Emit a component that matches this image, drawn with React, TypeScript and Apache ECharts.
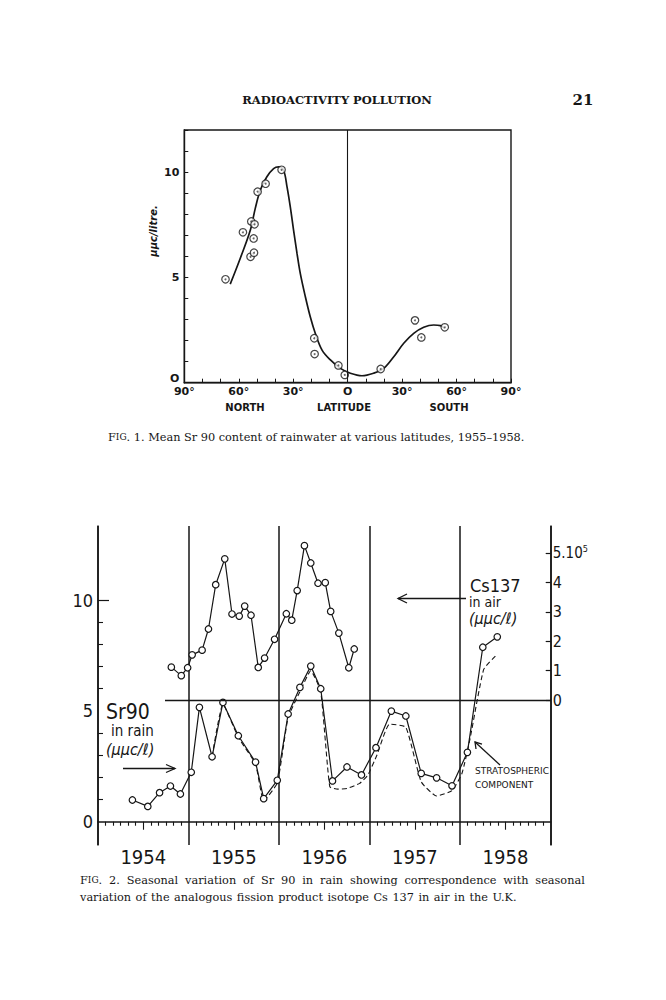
import React, { useEffect, useRef } from "react";
import * as echarts from "echarts";

// ---------- Figure 1 data (latitude: + = North, - = South) ----------
const fig1Lat = [67.3, 57.7, 53.1, 51.3, 51.8, 53.5, 51.6, 49.6, 45.2, 36.4, 18.4, 18.2, 5.1, 1.6, -18.2, -37.1, -40.6, -53.5];
const fig1Val = [4.91, 7.14, 7.66, 7.52, 6.85, 5.98, 6.17, 9.07, 9.45, 10.11, 2.11, 1.36, 0.82, 0.37, 0.65, 2.96, 2.15, 2.63];
const fig1CurveLat = [64.7, 59.2, 53.6, 50.9, 48.1, 44.5, 40.8, 38.0, 35.3, 33.4, 31.6, 29.8, 27.9, 26.1, 23.3, 20.6, 17.8, 14.1, 9.5, 4.0, -1.5, -7.9, -14.3, -19.9, -25.4, -30.9, -36.4, -41.9, -47.4, -51.1, -53.5];
const fig1CurveVal = [4.68, 5.9, 7.25, 8.28, 9.15, 9.78, 10.17, 10.25, 10.09, 9.3, 8.35, 7.25, 6.14, 5.19, 4.08, 3.13, 2.34, 1.55, 1.08, 0.68, 0.45, 0.33, 0.45, 0.68, 1.23, 1.87, 2.34, 2.63, 2.74, 2.71, 2.58];
const fig1XLabels = [-90, -60, -30, 0, 30, 60, 90];
const fig1YLabels = [0, 5, 10];

// ---------- Figure 2 data ----------
const srTime = [1954.38, 1954.55, 1954.68, 1954.8, 1954.91, 1955.03, 1955.12, 1955.26, 1955.38, 1955.55, 1955.74, 1955.83, 1955.98, 1956.1, 1956.23, 1956.35, 1956.46, 1956.59, 1956.75, 1956.91, 1957.07, 1957.24, 1957.4, 1957.57, 1957.74, 1957.91, 1958.08, 1958.25, 1958.41];
const srVal = [0.98, 0.69, 1.31, 1.61, 1.25, 2.23, 5.16, 2.93, 5.38, 3.88, 2.69, 1.04, 1.87, 4.86, 6.06, 7.02, 6.0, 1.84, 2.47, 2.11, 3.34, 4.99, 4.77, 2.18, 1.98, 1.62, 3.13, 7.87, 8.34];
const stratTime = [1955.26, 1955.38, 1955.55, 1955.74, 1955.83, 1955.98, 1956.1, 1956.23, 1956.35, 1956.46, 1956.56, 1956.65, 1956.75, 1956.89, 1956.98, 1957.08, 1957.22, 1957.4, 1957.57, 1957.74, 1957.91, 1958.02, 1958.11, 1958.26, 1958.4];
const stratVal = [2.93, 5.3, 3.8, 2.6, 0.95, 1.75, 4.7, 5.86, 6.81, 5.86, 1.58, 1.47, 1.5, 1.73, 2.1, 3.0, 4.4, 4.26, 1.8, 1.16, 1.4, 2.18, 3.76, 6.87, 7.52];
const csTime = [1954.81, 1954.92, 1954.99, 1955.04, 1955.15, 1955.22, 1955.3, 1955.4, 1955.48, 1955.56, 1955.62, 1955.69, 1955.77, 1955.84, 1955.95, 1956.08, 1956.14, 1956.2, 1956.28, 1956.35, 1956.43, 1956.51, 1956.57, 1956.66, 1956.77, 1956.83];
const csVal = [1.12, 0.83, 1.1, 1.54, 1.7, 2.42, 3.93, 4.81, 2.93, 2.86, 3.2, 2.89, 1.11, 1.43, 2.07, 2.94, 2.72, 3.73, 5.26, 4.67, 3.98, 4.0, 3.02, 2.28, 1.1, 1.74];
const years = [1954, 1955, 1956, 1957, 1958];
const leftLabels = [0, 5, 10];
const leftMinorTicks = [1, 2, 3, 4, 6, 7, 8, 9];
const rightLabels = [0, 1, 2, 3, 4, 5];
const csZeroLineStart = 1954.74;

const monthTicks: number[] = [];
years.forEach((y) => {
  for (let m = 1; m < 12; m++) if (m !== 6) monthTicks.push(y + m / 12);
});
const midYears = years.map((y) => y + 0.5);

const INK = "#161616";
const HAND = "'DejaVu Sans Condensed', 'Liberation Sans Narrow', 'DejaVu Sans', sans-serif";
const LETTER = "'DejaVu Sans', sans-serif";
const SERIF = "'DejaVu Serif', serif";
const CAP = 11.3;

const zip = (a: number[], b: number[]) => a.map((v, i) => [v, b[i]]);

function text(x: number, y: number, t: string, style: any, extra: any = {}) {
  return {
    type: "text",
    x,
    y,
    ...extra,
    style: { text: t, fill: INK, align: "left", verticalAlign: "middle", ...style },
  };
}

function arrow(pts: number[][]) {
  return {
    type: "polyline",
    shape: { points: pts },
    style: { stroke: INK, lineWidth: 1.3, fill: null },
  };
}

// caption with small-caps "FIG." and optional fixed word spacing
function caption(x: number, y: number, body: string, withFig: boolean, space: number | null) {
  const esc = (s: string) => s.replace(/[{}|]/g, "");
  const words = body.split(" ");
  const sp = space == null ? "{a| }" : "{sp| }";
  const bodyRich = words.map((w) => `{a|${esc(w)}}`).join(sp);
  const head = withFig ? "{a|F}{b|IG}" : "";
  return {
    type: "text",
    x,
    y,
    style: {
      text: head + bodyRich,
      verticalAlign: "middle",
      rich: {
        a: { fontFamily: SERIF, fontSize: CAP, fill: INK, color: INK },
        b: { fontFamily: SERIF, fontSize: CAP * 0.8, fill: INK, color: INK },
        sp: { fontFamily: SERIF, fontSize: CAP, fill: INK, color: INK, width: space ?? 3 },
      },
    },
  };
}

export default function App() {
  const ref = useRef<HTMLDivElement>(null);
  useEffect(() => {
    if (!ref.current) return;
    const chart = echarts.init(ref.current, null, { renderer: "svg" });
    const tickAxis = (values: number[], len: number) => ({
      gridIndex: 1,
      type: "value",
      min: 1954,
      max: 1959,
      axisLine: { show: false, onZero: true, onZeroAxisIndex: 1 },
      axisTick: { inside: true, length: len, customValues: values, lineStyle: { color: INK, width: 1.1 } },
      axisLabel: { show: false },
      splitLine: { show: false },
    });
    const option: any = {
      animation: false,
      backgroundColor: "#ffffff",
      grid: [
        { left: 184.3, right: 155, top: 130, bottom: 617.3, show: true, borderColor: INK, borderWidth: 1.4, backgroundColor: "transparent" },
        { left: 98, right: 115.3, top: 526, bottom: 155 },
      ],
      xAxis: [
        {
          gridIndex: 0,
          type: "value",
          min: -90,
          max: 90,
          interval: 10,
          inverse: true,
          axisLine: { lineStyle: { color: INK, width: 1.4 } },
          axisTick: { inside: true, length: 4, lineStyle: { color: INK, width: 1 } },
          axisLabel: {
            customValues: fig1XLabels,
            formatter: (v: number) => (v === 0 ? "O" : Math.abs(v) + "°"),
            margin: 4,
            lineHeight: 10,
            fontFamily: LETTER,
            fontWeight: "bold",
            fontSize: 11,
            color: INK,
          },
          splitLine: { show: false },
        },
        {
          gridIndex: 1,
          type: "value",
          min: 1954,
          max: 1959,
          interval: 1,
          axisLine: { onZero: true, onZeroAxisIndex: 1, lineStyle: { color: INK, width: 1.5 } },
          axisTick: { show: false },
          axisLabel: {
            customValues: midYears,
            formatter: (v: number) => String(Math.floor(v)),
            margin: 2,
            fontFamily: HAND,
            fontSize: 20,
            color: INK,
          },
          splitLine: { show: true, lineStyle: { color: INK, width: 1.5 } },
        },
        tickAxis(monthTicks, 4),
        tickAxis(midYears, 8),
      ],
      yAxis: [
        {
          gridIndex: 0,
          type: "value",
          min: 0,
          max: 12,
          interval: 1,
          axisLine: { onZero: false, lineStyle: { color: INK, width: 1.4 } },
          axisTick: { inside: true, length: 4, lineStyle: { color: INK, width: 1 } },
          axisLabel: {
            customValues: fig1YLabels,
            formatter: (v: number) => (v === 0 ? "{o|O}" : String(v)),
            margin: 5,
            lineHeight: 8,
            fontFamily: LETTER,
            fontWeight: "bold",
            fontSize: 11,
            color: INK,
            rich: {
              o: { fontFamily: LETTER, fontWeight: "bold", fontSize: 11, color: INK, lineHeight: 8, padding: [0, 0, 8, 0] },
            },
          },
          splitLine: { show: false },
        },
        {
          gridIndex: 1,
          type: "value",
          position: "left",
          min: -1.05,
          max: 13.34,
          axisLine: { onZero: false, lineStyle: { color: INK, width: 1.5 } },
          axisTick: { inside: true, length: 11, customValues: [10], lineStyle: { color: INK, width: 1.2 } },
          axisLabel: {
            customValues: leftLabels,
            formatter: (v: number) => String(v),
            margin: 5,
            fontFamily: HAND,
            fontSize: 18,
            color: INK,
          },
          splitLine: { show: false },
        },
        {
          gridIndex: 1,
          type: "value",
          position: "left",
          min: -1.05,
          max: 13.34,
          axisLine: { show: false, onZero: false },
          axisTick: { inside: true, length: 5, customValues: leftMinorTicks, lineStyle: { color: INK, width: 1.1 } },
          axisLabel: { show: false },
          splitLine: { show: false },
        },
        {
          gridIndex: 1,
          type: "value",
          position: "right",
          min: -4.94,
          max: 5.93,
          axisLine: { onZero: false, lineStyle: { color: INK, width: 1.5 } },
          axisTick: { inside: true, length: 5, customValues: rightLabels, lineStyle: { color: INK, width: 1.2 } },
          axisLabel: {
            customValues: rightLabels,
            formatter: (v: number) => (v === 5 ? "{a|5.10}{s|5}" : String(v)),
            margin: 2,
            fontFamily: HAND,
            fontSize: 16,
            color: INK,
            rich: {
              a: { fontFamily: HAND, fontSize: 15, color: INK },
              s: { fontFamily: HAND, fontSize: 9, color: INK, verticalAlign: "top", padding: [0, 0, 8, 0] },
            },
          },
          splitLine: { show: false },
        },
      ],
      series: [
        {
          type: "line",
          xAxisIndex: 0,
          yAxisIndex: 0,
          data: zip(fig1CurveLat, fig1CurveVal),
          smooth: 0.35,
          symbol: "none",
          lineStyle: { color: INK, width: 1.7 },
          markLine: {
            silent: true,
            symbol: "none",
            label: { show: false },
            lineStyle: { color: INK, type: "solid", width: 1.1 },
            data: [{ xAxis: 0 }],
          },
        },
        {
          type: "scatter",
          xAxisIndex: 0,
          yAxisIndex: 0,
          data: zip(fig1Lat, fig1Val),
          symbol: "circle",
          symbolSize: 7.5,
          itemStyle: { color: "#fff", borderColor: INK, borderWidth: 1.2 },
          z: 3,
        },
        {
          type: "scatter",
          xAxisIndex: 0,
          yAxisIndex: 0,
          data: zip(fig1Lat, fig1Val),
          symbol: "circle",
          symbolSize: 2,
          itemStyle: { color: "#444" },
          z: 4,
        },
        {
          type: "line",
          name: "Sr90 in rain",
          xAxisIndex: 1,
          yAxisIndex: 1,
          data: zip(srTime, srVal),
          symbol: "circle",
          symbolSize: 6.5,
          itemStyle: { color: "#fff", borderColor: INK, borderWidth: 1.2 },
          lineStyle: { color: INK, width: 1.2 },
          z: 4,
        },
        {
          type: "line",
          name: "Stratospheric component",
          xAxisIndex: 1,
          yAxisIndex: 1,
          data: zip(stratTime, stratVal),
          symbol: "none",
          smooth: 0.15,
          lineStyle: { color: INK, width: 1.1, type: [5, 3] },
          z: 3,
        },
        {
          type: "line",
          name: "Cs137 in air",
          xAxisIndex: 1,
          yAxisIndex: 3,
          data: zip(csTime, csVal),
          symbol: "circle",
          symbolSize: 6.5,
          itemStyle: { color: "#fff", borderColor: INK, borderWidth: 1.2 },
          lineStyle: { color: INK, width: 1.2 },
          z: 4,
          markLine: {
            silent: true,
            symbol: "none",
            label: { show: false },
            lineStyle: { color: INK, type: "solid", width: 1.3 },
            data: [[{ coord: [csZeroLineStart, 0] }, { coord: [1959, 0] }]],
          },
        },
      ],
      graphic: [
        // page header
        text(337, 100, "RADIOACTIVITY POLLUTION", { fontFamily: SERIF, fontWeight: "bold", fontSize: 11.5, align: "center" }),
        text(583, 100, "21", { fontFamily: SERIF, fontWeight: "bold", fontSize: 15, align: "center" }),
        // figure 1 labels
        text(153, 231, "μμc/litre.", { fontFamily: LETTER, fontWeight: "bold", fontStyle: "italic", fontSize: 10, align: "center" }, { rotation: Math.PI / 2 }),
        text(245, 407, "NORTH", { fontFamily: LETTER, fontWeight: "bold", fontSize: 10, align: "center" }),
        text(344, 407, "LATITUDE", { fontFamily: LETTER, fontWeight: "bold", fontSize: 10, align: "center" }),
        text(449, 407, "SOUTH", { fontFamily: LETTER, fontWeight: "bold", fontSize: 10, align: "center" }),
        caption(108, 437, ". 1. Mean Sr 90 content of rainwater at various latitudes, 1955–1958.", true, null),
        // figure 2 annotations
        text(106, 712, "Sr90", { fontFamily: HAND, fontSize: 21 }),
        text(111, 731, "in rain", { fontFamily: HAND, fontSize: 15 }),
        text(106, 749, "(μμc/ℓ)", { fontFamily: HAND, fontSize: 16, fontStyle: "italic" }),
        arrow([[123, 768.5], [175, 768.5]]),
        arrow([[166, 764.5], [175, 768.5], [166, 772.5]]),
        text(470, 585, "Cs137", { fontFamily: HAND, fontSize: 18 }),
        text(469, 602, "in air", { fontFamily: HAND, fontSize: 14 }),
        text(469, 618, "(μμc/ℓ)", { fontFamily: HAND, fontSize: 16, fontStyle: "italic" }),
        arrow([[398, 598.5], [466, 598.5]]),
        arrow([[407, 594], [398, 598.5], [407, 603]]),
        text(475, 771, "STRATOSPHERIC", { fontFamily: LETTER, fontSize: 9 }),
        text(475, 785, "COMPONENT", { fontFamily: LETTER, fontSize: 9 }),
        arrow([[500, 765], [475, 742]]),
        arrow([[476, 749], [475, 742], [482, 744]]),
        caption(80, 880, ". 2. Seasonal variation of Sr 90 in rain showing correspondence with seasonal", true, 6.9),
        caption(80, 897, "variation of the analogous fission product isotope Cs 137 in air in the U.K.", false, 4.5),
      ],
    };
    chart.setOption(option);
    return () => chart.dispose();
  }, []);
  return <div ref={ref} style={{ position: "absolute", left: 0, top: 0, width: 666, height: 1000 }} />;
}
